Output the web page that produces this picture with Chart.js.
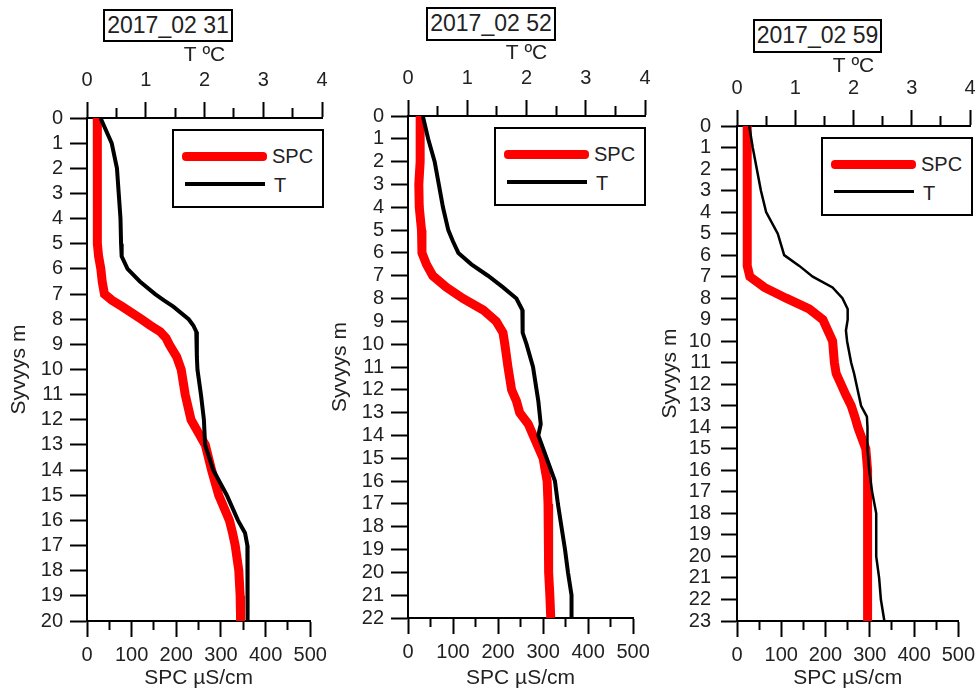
<!DOCTYPE html>
<html>
<head>
<meta charset="utf-8">
<script src="https://cdn.jsdelivr.net/npm/chart.js@4.4.1/dist/chart.umd.min.js"></script>
<style>
    body { margin: 0; background: #fff; font-family: "Liberation Sans", Arial, sans-serif; color: #222; }
    #kuva { position: relative; width: 976px; height: 695px; overflow: hidden; }
    #kuva canvas { position: absolute; left: 0; top: 0; }
    .otsikko {
        position: absolute; box-sizing: border-box; border: 2px solid #000; background: #fff;
        font-size: 23px; line-height: 29px; text-align: center; white-space: nowrap;
    }
    .selite { position: absolute; box-sizing: border-box; border: 2px solid #000; background: #fff; width: 152px; height: 79px; }
    .selite .viiva { position: absolute; }
    .selite .spc { left: 8px; top: 21px; width: 85px; height: 9px; background: #f00; border-radius: 4px; }
    .selite .t { left: 11px; top: 51px; width: 80px; height: 4px; background: #000; }
    .selite span { position: absolute; font-size: 20px; line-height: 22px; }
</style>
</head>
<body>
<div id="kuva">
    <canvas id="p31" width="976" height="695"></canvas>
    <canvas id="p52" width="976" height="695"></canvas>
    <canvas id="p59" width="976" height="695"></canvas>

    <div class="otsikko" style="left:103px; top:9px; width:130px; height:33px;">2017_02 31</div>
    <div class="otsikko" style="left:426px; top:7px; width:130px; height:34px;">2017_02 52</div>
    <div class="otsikko" style="left:753px; top:19px; width:129px; height:34px;">2017_02 59</div>

    <div class="selite" style="left:172px; top:129px;">
        <div class="viiva spc"></div><span style="left:98px; top:14px;">SPC</span>
        <div class="viiva t"></div><span style="left:100px; top:43px;">T</span>
    </div>
    <div class="selite" style="left:494px; top:127px;">
        <div class="viiva spc"></div><span style="left:98px; top:14px;">SPC</span>
        <div class="viiva t"></div><span style="left:100px; top:43px;">T</span>
    </div>
    <div class="selite" style="left:821px; top:137px;">
        <div class="viiva spc"></div><span style="left:98px; top:14px;">SPC</span>
        <div class="viiva t" style="height:3px;"></div><span style="left:100px; top:43px;">T</span>
    </div>
</div>

<script>
// Syvyysprofiilit: sähkönjohtavuus (SPC, µS/cm) ja lämpötila (T, ºC)

// 2017_02 31
const syvyys31 = [0, 1, 2, 3, 4, 5, 5.5, 6, 6.5, 7, 7.25, 7.5, 8, 8.25, 8.5, 8.75, 9, 9.5, 10, 11, 12, 12.5, 13, 14, 15, 16, 16.5, 17, 18, 19, 20];
const spc31 = [23, 23, 23, 23, 23, 24, 26, 31, 34, 39, 56, 79, 122, 142, 164, 177, 184, 201, 211, 220, 233, 249, 265, 279, 295, 319, 326, 332, 340, 343, 344];
const t31 = [0.23, 0.42, 0.51, 0.54, 0.57, 0.58, 0.59, 0.69, 0.90, 1.16, 1.31, 1.47, 1.73, 1.81, 1.86, 1.87, 1.87, 1.87, 1.88, 1.94, 1.99, 2.00, 2.01, 2.15, 2.38, 2.57, 2.69, 2.73, 2.73, 2.74, 2.73];

// 2017_02 52
const syvyys52 = [0, 1, 2, 3, 4, 5, 5.5, 6, 6.5, 7, 7.5, 8, 8.5, 9, 9.5, 10, 11, 12, 12.5, 13, 13.5, 14, 15, 16, 17, 18, 19, 20, 21, 22];
const spc52 = [27, 27, 27, 24, 25, 30, 31, 31, 41, 55, 85, 122, 167, 196, 211, 215, 222, 230, 241, 248, 267, 278, 300, 309, 311, 313, 311, 313, 315, 317];
const t52 = [0.25, 0.34, 0.45, 0.52, 0.59, 0.68, 0.76, 0.85, 1.07, 1.35, 1.60, 1.83, 1.93, 1.93, 1.94, 2.00, 2.11, 2.17, 2.20, 2.22, 2.24, 2.20, 2.34, 2.48, 2.53, 2.59, 2.65, 2.70, 2.76, 2.76];

// 2017_02 59
const syvyys59 = [0, 1, 2, 3, 4, 5, 6, 6.5, 7, 7.5, 8, 8.5, 9, 9.5, 10, 11, 11.5, 12, 12.5, 13, 13.5, 14, 15, 16, 17, 18, 19, 20, 21, 22, 23];
const spc59 = [23, 23, 23, 23, 23, 23, 23, 24, 29, 62, 111, 163, 194, 205, 216, 220, 224, 235, 246, 258, 266, 273, 291, 295, 295, 295, 295, 295, 295, 295, 295];
const t59 = [0.21, 0.27, 0.34, 0.41, 0.50, 0.70, 0.81, 1.07, 1.30, 1.64, 1.81, 1.90, 1.90, 1.87, 1.89, 1.96, 2.01, 2.05, 2.09, 2.13, 2.23, 2.24, 2.24, 2.27, 2.32, 2.39, 2.39, 2.39, 2.44, 2.47, 2.53];

// Akselien jaot
const spcTicks = [0, 50, 100, 150, 200, 250, 300, 350, 400, 450, 500];
const tTicks = [0, 0.5, 1, 1.5, 2, 2.5, 3, 3.5, 4];

Chart.defaults.font.family = '"Liberation Sans", Arial, sans-serif';
Chart.defaults.font.size = 20;
Chart.defaults.color = '#222';

const LEVEYS = 976;
const KORKEUS = 695;
const OTSIKKOFONTTI = { size: 21 };
// SPC-akseli on hieman lyhyempi kuin yläpuolinen T-akseli
const SPC_OSUUS = 0.95;

const lyhennaSpcAkseli = {
    id: 'lyhennaSpcAkseli',
    afterLayout(chart) {
        const s = chart.scales.x;
        s.right = s.left + (s.right - s.left) * SPC_OSUUS;
        s.width = s.right - s.left;
        s.configure();
    }
};

function pisteet(syvyys, arvot) {
    return syvyys.map((d, i) => ({ x: arvot[i], y: d }));
}

function piirraProfiili(id, syvyys, spc, lampo, asetus) {
    const vasenPad = asetus.yOtsikkoX - 20;
    const ctx = document.getElementById(id).getContext('2d');
    new Chart(ctx, {
        type: 'scatter',
        data: {
            datasets: [
                {
                    label: 'T',
                    data: pisteet(syvyys, lampo),
                    xAxisID: 'x2',
                    borderColor: '#000',
                    borderWidth: asetus.tLeveys,
                    showLine: true,
                    pointRadius: 0,
                    order: 0
                },
                {
                    label: 'SPC',
                    data: pisteet(syvyys, spc),
                    xAxisID: 'x',
                    borderColor: '#ff0000',
                    borderWidth: 9,
                    showLine: true,
                    pointRadius: 0,
                    order: 1
                }
            ]
        },
        options: {
            responsive: false,
            animation: false,
            devicePixelRatio: 1,
            layout: { padding: { left: vasenPad, top: 0, right: LEVEYS - asetus.oikea, bottom: 0 } },
            plugins: { legend: { display: false }, tooltip: { enabled: false } },
            scales: {
                x: {
                    type: 'linear',
                    position: 'bottom',
                    min: 0,
                    max: 500,
                    afterBuildTicks: s => { s.ticks = spcTicks.map(v => ({ value: v })); },
                    afterFit: s => { s.height = KORKEUS - asetus.ala; s.paddingLeft = 0; s.paddingRight = 0; },
                    ticks: {
                        autoSkip: false, maxRotation: 0, padding: 6.5,
                        callback: v => (v % 100 === 0 ? v : '')
                    },
                    grid: {
                        drawOnChartArea: false, tickLength: 16, tickWidth: 2, tickColor: '#000',
                        tickBorderDash: c => (c.tick && c.tick.value % 100 !== 0 ? [8, 100] : [])
                    },
                    border: { color: '#000', width: 2 },
                    title: { display: true, text: 'SPC µS/cm', font: OTSIKKOFONTTI, padding: { bottom: 4 } }
                },
                x2: {
                    type: 'linear',
                    position: 'top',
                    min: 0,
                    max: 4,
                    afterBuildTicks: s => { s.ticks = tTicks.map(v => ({ value: v })); },
                    afterFit: s => { s.height = asetus.yla; s.paddingLeft = 0; s.paddingRight = 0; },
                    ticks: {
                        autoSkip: false, maxRotation: 0, padding: 9.5,
                        callback: v => (Number.isInteger(v) ? v : '')
                    },
                    grid: {
                        drawOnChartArea: false, tickLength: 16, tickWidth: 2, tickColor: '#000',
                        tickBorderDash: c => (c.tick && !Number.isInteger(c.tick.value) ? [0, 6, 9, 100] : [])
                    },
                    border: { color: '#000', width: 2 },
                    title: { display: true, text: 'T ºC', font: OTSIKKOFONTTI, padding: { top: asetus.tOtsikkoY - 12.6 } }
                },
                y: {
                    type: 'linear',
                    reverse: true,
                    min: 0,
                    max: asetus.maxSyvyys,
                    afterFit: s => { s.width = asetus.vasen - vasenPad; s.paddingTop = 0; s.paddingBottom = 0; },
                    ticks: { stepSize: 1, autoSkip: false, padding: asetus.yPad },
                    grid: { drawOnChartArea: false, tickLength: asetus.yTick, tickWidth: 2, tickColor: '#000' },
                    border: { color: '#000', width: 2 },
                    title: { display: true, text: 'Syvyys m', font: OTSIKKOFONTTI, padding: { top: 7.4 } }
                }
            }
        },
        plugins: [lyhennaSpcAkseli]
    });
}

piirraProfiili('p31', syvyys31, spc31, t31, {
    vasen: 87, oikea: 322, yla: 118, ala: 621, maxSyvyys: 20,
    yOtsikkoX: 19, yTick: 17, yPad: 7, tOtsikkoY: 55, tLeveys: 4
});
piirraProfiili('p52', syvyys52, spc52, t52, {
    vasen: 408, oikea: 645, yla: 116, ala: 618, maxSyvyys: 22,
    yOtsikkoX: 340, yTick: 17, yPad: 7, tOtsikkoY: 53, tLeveys: 4
});
piirraProfiili('p59', syvyys59, spc59, t59, {
    vasen: 737, oikea: 970, yla: 126, ala: 621, maxSyvyys: 23,
    yOtsikkoX: 670, yTick: 16, yPad: 10, tOtsikkoY: 66, tLeveys: 2.5
});
</script>
</body>
</html>
